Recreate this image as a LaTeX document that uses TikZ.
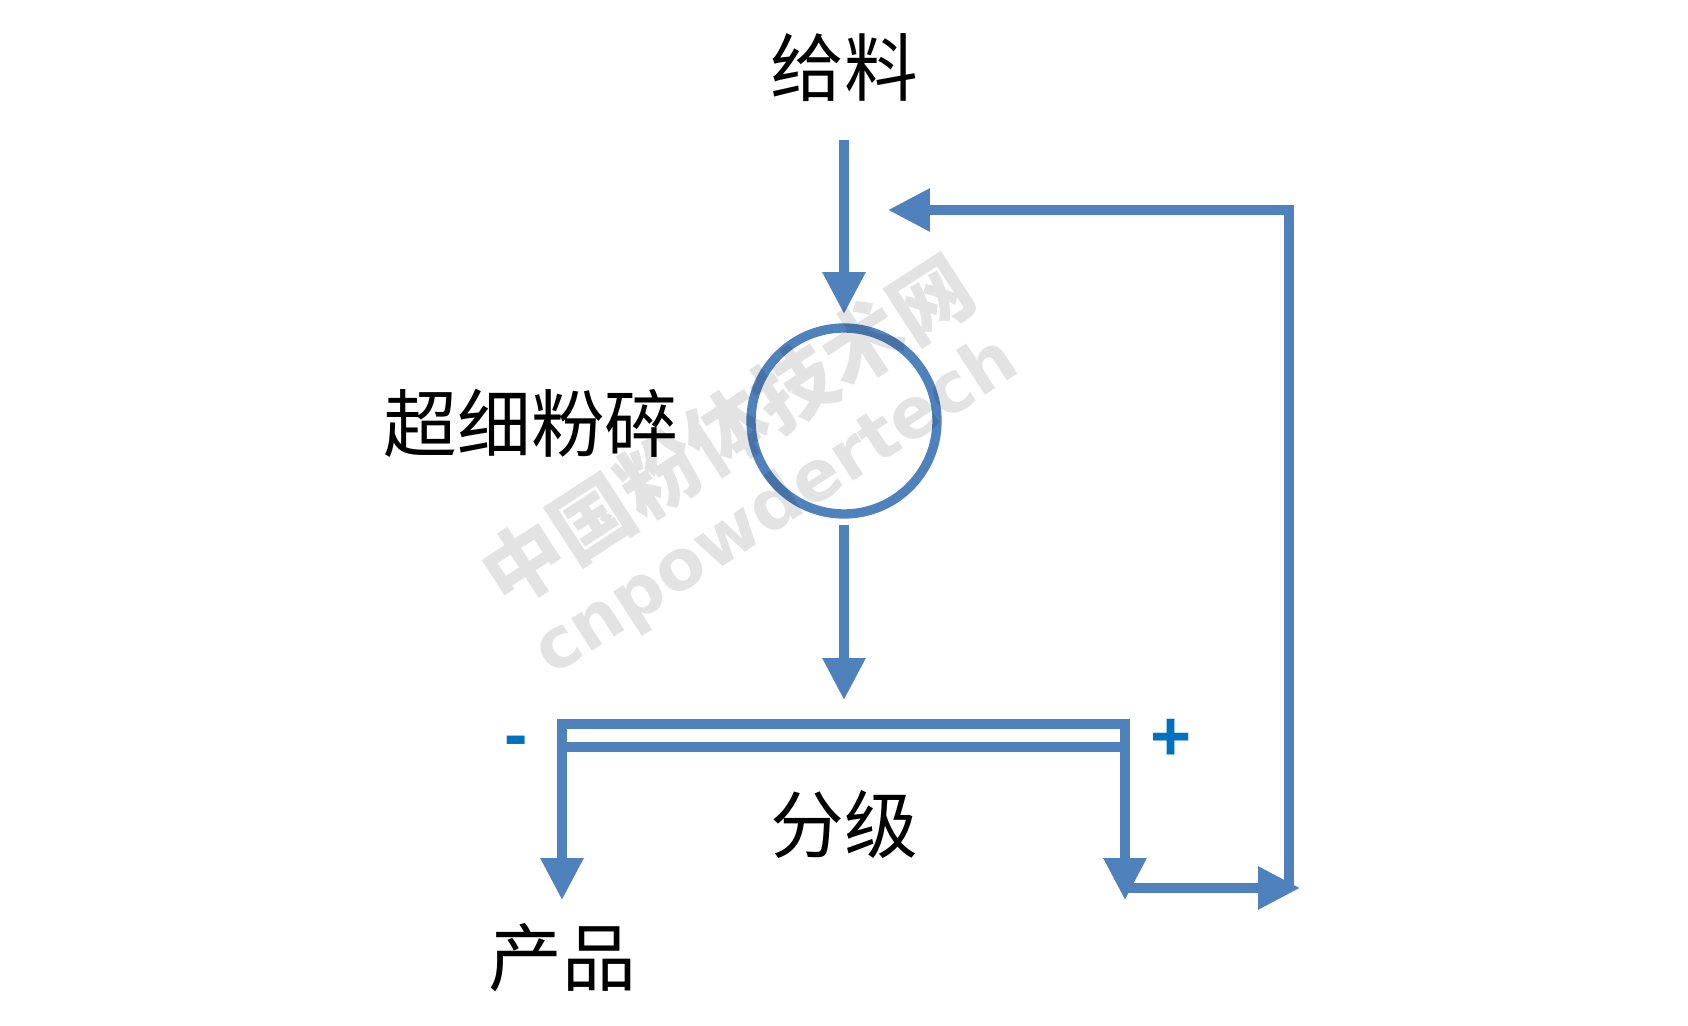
\documentclass[tikz,border=0pt]{standalone}
\usepackage{fontspec}
\usetikzlibrary{arrows.meta}
\newfontfamily\cjk{Noto Sans CJK SC}
\newfontfamily\wmfont{DejaVu Sans}
\newfontfamily\signfont{Liberation Sans}
\definecolor{flow}{HTML}{4F81BD}
\definecolor{sign}{HTML}{0070C0}
\tikzset{
  lbl/.style={font=\cjk\fontsize{42}{50}\selectfont, inner sep=0pt, text=black},
  flowline/.style={draw=flow, line width=5.3pt},
  flowarrow/.style={flowline, -{Triangle[length=0.84cm,width=0.82cm]}},
  signlbl/.style={font=\signfont\bfseries\fontsize{40}{44}\selectfont, text=sign, inner sep=0pt},
  wm/.style={text=black, text opacity=0.11, rotate=33, inner sep=0pt}
}
\begin{document}
\begin{tikzpicture}[x=0.02cm,y=-0.02cm]
\useasboundingbox (0,0) rectangle (1688,1026);
\fill[white] (0,0) rectangle (1688,1026);
% labels
\node[lbl] (feed) at (844,68) {给料};
\node[lbl] (millLbl) at (531,423) {超细粉碎};
\node[lbl] (clsLbl) at (844,825) {分级};
\node[lbl] (prod) at (562,958) {产品};
\node[signlbl] (minus) at (516,747) {-};
\node[signlbl] (plus) at (1171,740) {+};
% mill
\node[circle, draw=flow, line width=5.3pt, minimum size=3.72cm, inner sep=0pt] (mill) at (844,421) {};
% classifier
\coordinate (clsNW) at (562,724);
\coordinate (clsSE) at (1125,747);
\draw[flowline] (clsNW) rectangle (clsSE);
% coordinates
\coordinate (feedStart) at (844,140);
\coordinate (feedEnd) at (844,314);
\coordinate (millOutStart) at (844,525);
\coordinate (millOutEnd) at (844,700);
\coordinate (fineEnd) at (562,900);
\coordinate (clsNE) at (1125,724);
\coordinate (coarseEnd) at (1125,900);
\coordinate (coarseTurn) at (1125,888);
\coordinate (coarseTip) at (1300,888);
\coordinate (retBottom) at (1289,891);
\coordinate (retTop) at (1289,210);
\coordinate (retTip) at (888,210);
% connectors
\draw[flowarrow] (feedStart) -- (feedEnd);
\draw[flowarrow] (millOutStart) -- (millOutEnd);
\draw[flowarrow] (clsNW) -- (fineEnd);
\draw[flowarrow] (clsNE) -- (coarseEnd);
\draw[flowarrow] (coarseTurn) -- (coarseTip);
\draw[flowarrow] (retBottom) -- (retTop) -- (retTip);
% watermark
\node[wm, font=\cjk\bfseries\fontsize{46}{52}\selectfont] (wm1) at (727,431) {中国粉体技术网};
\node[wm, font=\wmfont\bfseries\fontsize{40}{46}\selectfont] (wm2) at (777,508) {cnpowdertech};
\end{tikzpicture}
\end{document}
